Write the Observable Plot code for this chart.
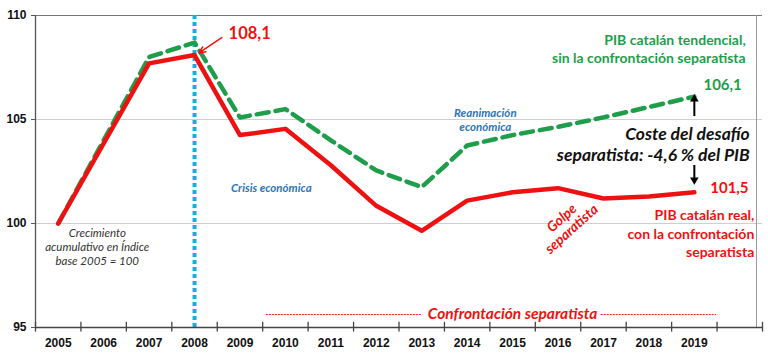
<!DOCTYPE html>
<html><head><meta charset="utf-8">
<script src="https://cdn.jsdelivr.net/npm/d3@7"></script>
<script src="https://cdn.jsdelivr.net/npm/@observablehq/plot@0.6"></script>
<style>body{margin:0;background:#fff;} svg{display:block;}</style>
</head><body><div id="chart"></div>
<script>
const years = [2005,2006,2007,2008,2009,2010,2011,2012,2013,2014,2015,2016,2017,2018,2019];
const pibReal = [100, 103.85, 107.7, 108.1, 104.25, 104.55, 102.8, 100.85, 99.65, 101.1, 101.5, 101.7, 101.2, 101.3, 101.5];
const pibTendencial = [100, 104.0, 108.0, 108.7, 105.1, 105.5, 104.0, 102.55, 101.75, 103.75, 104.25, 104.65, 105.1, 105.6, 106.1];
const yTicks = [95, 100, 105, 110];
const gridValues = [100, 105];
const crisisYear = 2008;

const labelPeak = "108,1";
const labelTend = "PIB catalán tendencial,\nsin la confrontación separatista";
const labelTendValue = "106,1";
const labelCoste = "Coste del desafío\nseparatista: -4,6 % del PIB";
const labelRealValue = "101,5";
const labelReal = "PIB catalán real,\ncon la confrontación\nseparatista";
const labelGolpe = "Golpe\nseparatista";
const labelReanim = "Reanimación\neconómica";
const labelCrisis = "Crisis económica";
const labelBase = "Crecimiento\nacumulativo en Índice\nbase 2005 = 100";
const labelConfront = "Confrontación separatista";

const RED = "#ee1111", GREEN = "#1e9e4a", BLUE = "#2e75b6", LBLUE = "#1eaae6";
const real = years.map((y, i) => ({year: y, v: pibReal[i]}));
const tend = years.map((y, i) => ({year: y, v: pibTendencial[i]}));
const x0 = years[0] - 0.5, x1 = years[years.length - 1] + 1.5;
const bounds = d3.range(x0, x1 + 0.01, 1);
const lastYear = years[years.length - 1];
const F = "Lato";

const plot = Plot.plot({
  width: 768, height: 360,
  marginLeft: 35, marginTop: 15, marginBottom: 33, marginRight: 6,
  style: {fontFamily: F, background: "#fff"},
  x: {type: "linear", domain: [x0, x1], axis: null},
  y: {domain: [95, 110], axis: null},
  marks: [
    Plot.ruleY(gridValues, {stroke: "#cfcfcf", strokeWidth: 1, x1: x0, x2: x1}),
    Plot.ruleY([110], {stroke: "#777", strokeWidth: 1.2, x1: x0, x2: x1}),
    Plot.ruleX([x1], {y1: 95, y2: 110, stroke: "#999", strokeWidth: 1, dx: -6}),
    Plot.ruleX([x0], {y1: 95, y2: 110, stroke: "#555", strokeWidth: 1.3}),
    Plot.ruleX([crisisYear], {y1: 95, y2: 110, stroke: LBLUE, strokeWidth: 4, strokeDasharray: "4,3"}),
    Plot.ruleY([95], {x1: x0, x2: x1, stroke: "#444", strokeWidth: 1.6}),
    Plot.ruleX(bounds, {y1: 95.25, y2: 94.78, stroke: "#444", strokeWidth: 1.3, clip: false}),
    Plot.axisY(yTicks, {label: null, tickSize: 4, tickPadding: 5, fontWeight: "bold", fontSize: 12, fontFamily: "Liberation Sans", stroke: "#555", fill: "#111"}),
    Plot.axisX(years, {label: null, tickSize: 0, tickPadding: 11, fontWeight: "bold", fontSize: 12, fontFamily: "Liberation Sans", fill: "#111", tickFormat: d => String(d)}),
    // Confrontación separatista band
    Plot.ruleY([95.62], {x1: 2009.58, x2: 2013.0, stroke: RED, strokeWidth: 1, strokeDasharray: "2,1"}),
    Plot.ruleY([95.62], {x1: 2016.95, x2: 2019.49, stroke: RED, strokeWidth: 1, strokeDasharray: "2,1"}),
    Plot.text([labelConfront], {x: 2015.0, y: 95.67, text: d => d, fill: RED, fontSize: 15.5, fontWeight: "bold", fontStyle: "italic"}),
    // series
    Plot.line(tend, {x: "year", y: "v", stroke: GREEN, strokeWidth: 4.5, strokeDasharray: "12,7"}),
    Plot.line(real, {x: "year", y: "v", stroke: RED, strokeWidth: 4.5}),
    // annotations
    Plot.text([labelPeak], {x: 2008.75, y: 109.13, text: d => d, fill: RED, fontSize: 16.5, fontWeight: "bold", textAnchor: "start"}),
    Plot.arrow([0], {x1: 2008.6, y1: 108.94, x2: 2008.1, y2: 108.2, stroke: RED, strokeWidth: 1.5, headLength: 7, headAngle: 50}),
    Plot.text([labelTend], {x: 2020.13, y: 108.44, text: d => d, fill: GREEN, fontSize: 14, fontWeight: "bold", textAnchor: "end", lineHeight: 1.35}),
    Plot.text([labelTendValue], {x: 2019.2, y: 106.63, text: d => d, fill: GREEN, fontSize: 15, fontWeight: "bold", textAnchor: "start"}),
    Plot.ruleX([lastYear], {y1: 105.14, y2: 106.0, stroke: "#000", strokeWidth: 2}),
    Plot.dot([lastYear], {x: d => d, y: () => 106.2, symbol: "triangle", r: 3.2, fill: "#000", dy: 4.5}),
    Plot.text([labelCoste], {x: 2020.22, y: 103.82, text: d => d, fill: "#111", fontSize: 17.5, fontWeight: "bold", fontStyle: "italic", textAnchor: "end", lineHeight: 1.2}),
    Plot.ruleX([lastYear], {y1: 102.79, y2: 102.1, stroke: "#000", strokeWidth: 2}),
    Plot.dot([lastYear], {x: d => d, y: () => 101.88, symbol: "triangle", r: 3.2, fill: "#000", rotate: 180, dy: -4.5}),
    Plot.text([labelRealValue], {x: 2019.35, y: 101.68, text: d => d, fill: RED, fontSize: 15, fontWeight: "bold", textAnchor: "start"}),
    Plot.text([labelReal], {x: 2020.32, y: 99.57, text: d => d, fill: RED, fontSize: 14, fontWeight: "bold", textAnchor: "end", lineHeight: 1.35}),
    Plot.text([labelGolpe], {x: 2016.19, y: 100.0, text: d => d, fill: RED, fontSize: 14, fontWeight: "bold", fontStyle: "italic", rotate: -42, lineHeight: 1.05}),
    Plot.text([labelReanim], {x: 2014.4, y: 105.0, text: d => d, fill: BLUE, fontSize: 11.5, fontWeight: "bold", fontStyle: "italic", lineHeight: 1.25}),
    Plot.text([labelCrisis], {x: 2009.69, y: 101.68, text: d => d, fill: BLUE, fontSize: 11.5, fontWeight: "bold", fontStyle: "italic"}),
    Plot.text([labelBase], {x: 2005.86, y: 98.89, text: d => d, fill: "#333", fontSize: 11.5, fontStyle: "italic", lineHeight: 1.22})
  ]
});
document.getElementById("chart").appendChild(plot);
</script>
</body></html>
